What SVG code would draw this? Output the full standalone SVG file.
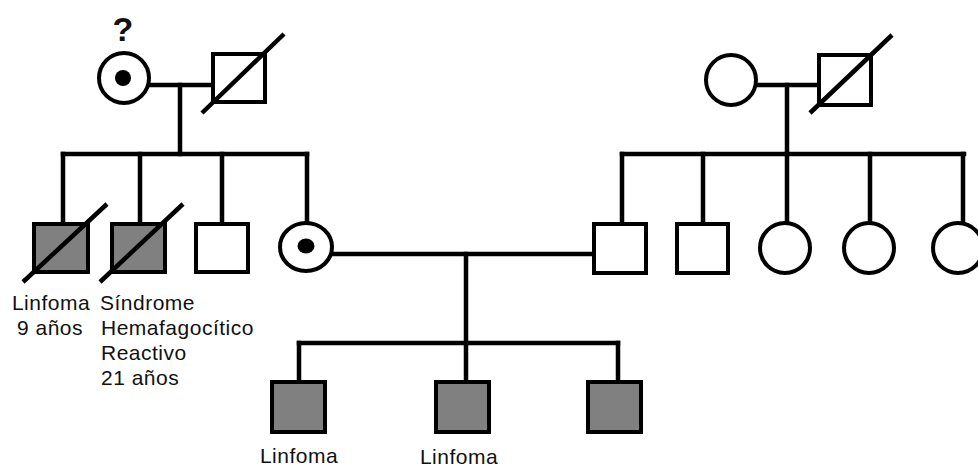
<svg xmlns="http://www.w3.org/2000/svg" width="978" height="468" viewBox="0 0 978 468">
  <style>
    .sym { fill: #ffffff; stroke: #000; stroke-width: 4; }
    .aff { fill: #808080; stroke: #000; stroke-width: 4; }
    .dot { fill: #000; }
    .ln { stroke: #000; stroke-width: 4.5; fill: none; stroke-linecap: square; }
    .dec { stroke: #000; stroke-width: 4.5; }
    .lbl { font-family: "Liberation Sans", Arial, sans-serif; font-size: 21px; fill: #111; letter-spacing: 0.5px; }
    .q { font-family: "Liberation Sans", Arial, sans-serif; font-size: 34px; font-weight: bold; fill: #111; }
  </style>

  <rect width="978" height="468" fill="#ffffff"/>

  <!-- connectors: couple lines, descent lines, sibship lines -->
  <g id="connectors">
    <path class="ln" d="M148 85 H213"/>
    <path class="ln" d="M180 85 V154"/>
    <path class="ln" d="M63 154 H307"/>
    <path class="ln" d="M63 154 V224 M140 154 V224 M222 154 V224 M307 154 V222"/>

    <path class="ln" d="M756 85 H819"/>
    <path class="ln" d="M787 85 V154"/>
    <path class="ln" d="M622 154 H964"/>
    <path class="ln" d="M622 154 V224 M703 154 V224 M787 154 V223 M870 154 V223 M963 154 V223"/>

    <path class="ln" d="M331 254 H594"/>
    <path class="ln" d="M466 254 V343"/>
    <path class="ln" d="M299 343 H618"/>
    <path class="ln" d="M299 343 V382 M466 343 V382 M618 343 V382"/>
  </g>

  <!-- generation I, left couple -->
  <g id="I-1">
    <text class="q" x="123" y="41" text-anchor="middle">?</text>
    <circle class="sym" cx="124" cy="78" r="25"/>
    <circle class="dot" cx="123" cy="78" r="8"/>
  </g>
  <g id="I-2">
    <rect class="sym" x="213" y="54" width="52" height="48"/>
    <line class="dec" x1="202" y1="113" x2="284" y2="34"/>
  </g>

  <!-- generation I, right couple -->
  <g id="I-3">
    <circle class="sym" cx="731" cy="80" r="25"/>
  </g>
  <g id="I-4">
    <rect class="sym" x="819" y="55" width="52" height="50"/>
    <line class="dec" x1="810" y1="113" x2="892" y2="35"/>
  </g>

  <!-- generation II, left sibship -->
  <g id="II-1">
    <rect class="aff" x="34" y="224" width="54" height="48"/>
    <line class="dec" x1="23" y1="282" x2="107" y2="204"/>
    <text class="lbl" x="51" y="310" text-anchor="middle">Linfoma</text>
    <text class="lbl" x="50" y="335" text-anchor="middle">9 años</text>
  </g>
  <g id="II-2">
    <rect class="aff" x="112" y="224" width="53" height="48"/>
    <line class="dec" x1="100" y1="282" x2="183" y2="204"/>
    <text class="lbl" x="100" y="310">Síndrome</text>
    <text class="lbl" x="101" y="335">Hemafagocítico</text>
    <text class="lbl" x="101" y="360">Reactivo</text>
    <text class="lbl" x="101" y="385">21 años</text>
  </g>
  <g id="II-3">
    <rect class="sym" x="196" y="224" width="52" height="48"/>
  </g>
  <g id="II-4">
    <ellipse class="sym" cx="306" cy="247" rx="26" ry="24"/>
    <ellipse class="dot" cx="306" cy="246" rx="8.5" ry="7.5"/>
  </g>

  <!-- generation II, right sibship -->
  <g id="II-5">
    <rect class="sym" x="594" y="224" width="52" height="49"/>
  </g>
  <g id="II-6">
    <rect class="sym" x="677" y="224" width="51" height="49"/>
  </g>
  <g id="II-7">
    <circle class="sym" cx="785" cy="248" r="25"/>
  </g>
  <g id="II-8">
    <circle class="sym" cx="869" cy="248" r="25"/>
  </g>
  <g id="II-9">
    <circle class="sym" cx="958" cy="248" r="25"/>
  </g>

  <!-- generation III -->
  <g id="III-1">
    <rect class="aff" x="272" y="382" width="53" height="50"/>
    <text class="lbl" x="299" y="463" text-anchor="middle">Linfoma</text>
  </g>
  <g id="III-2">
    <rect class="aff" x="436" y="382" width="53" height="50"/>
    <text class="lbl" x="459" y="464" text-anchor="middle">Linfoma</text>
  </g>
  <g id="III-3">
    <rect class="aff" x="588" y="382" width="53" height="50"/>
  </g>
</svg>
